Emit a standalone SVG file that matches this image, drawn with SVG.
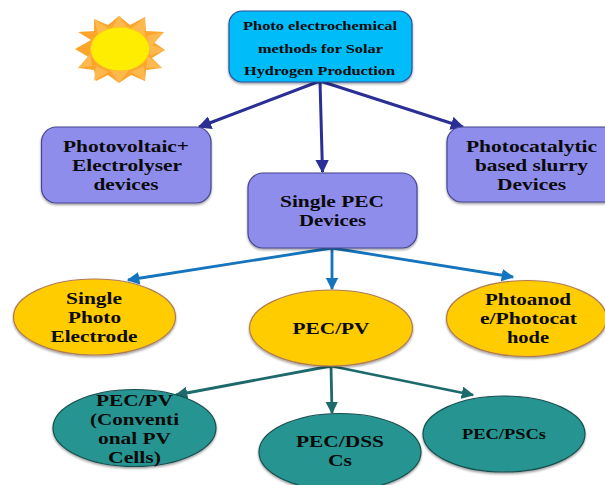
<svg xmlns="http://www.w3.org/2000/svg" width="605" height="485" viewBox="0 0 605 485">
<style>
text{font-family:"Liberation Serif","Times New Roman",serif;font-weight:bold;fill:#0a0a0a;text-anchor:middle}
.t1{font-size:13.500px}.t2{font-size:17.500px}.t3{font-size:15px}
.top{fill:#00bdf9;stroke:#2a4f9e;stroke-width:1.2;filter:url(#sh)}
.box{fill:#8f8dec;stroke:#46468f;stroke-width:1.2;filter:url(#sh)}
.gold{fill:#ffcc05;stroke:#b07c50;stroke-width:1.2;filter:url(#sh)}
.teal{fill:#279490;stroke:#174f50;stroke-width:1.2;filter:url(#sh)}
.c1{stroke:#2b2f95;stroke-width:3;fill:none;marker-end:url(#m1)}
.c2{stroke:#1474bd;stroke-width:2.800;fill:none;marker-end:url(#m2)}
.c3{stroke:#1d6a6c;stroke-width:2.800;fill:none;marker-end:url(#m3)}
</style>
<defs>
<filter id="sh" x="-10%" y="-10%" width="120%" height="125%"><feDropShadow dx="0" dy="1.500" stdDeviation="1.200" flood-color="#000" flood-opacity=".4"/></filter>
<marker id="m1" viewBox="0 0 10 10" refX="9" refY="5" markerWidth="4.500" markerHeight="4.500" orient="auto"><path d="M0 0L10 5L0 10Z" fill="#2b2f95"/></marker>
<marker id="m2" viewBox="0 0 10 10" refX="9" refY="5" markerWidth="4.500" markerHeight="4.500" orient="auto"><path d="M0 0L10 5L0 10Z" fill="#1474bd"/></marker>
<marker id="m3" viewBox="0 0 10 10" refX="9" refY="5" markerWidth="4.500" markerHeight="4.500" orient="auto"><path d="M0 0L10 5L0 10Z" fill="#1d6a6c"/></marker>
</defs>
<rect width="605" height="485" fill="#fff"/>
<g id="sun">
<path d="M75 49L91 40L78 32L94 31L94 19L108 25L119 16L130 25L145 17L146 31L164 32L152 41L165 50L152 58L162 68L146 70L145 81L131 75L119 83L108 75L96 81L94 70L78 68L90 58Z" fill="#fba52c"/>
<path d="M119 16L111 30L129 30ZM94 19L98 34L108 28ZM145 17L132 28L145 36ZM164 32L147 36L150 48ZM165 50L150 44L150 56ZM162 68L148 56L146 68ZM145 81L144 66L131 72ZM119 83L110 70L129 70ZM94 81L108 72L96 66ZM78 68L92 66L90 54Z" fill="#fdb84e"/>
<ellipse cx="120" cy="49" rx="29.500" ry="22" fill="#ffed00" stroke="#fbc02d" stroke-width="1"/>
</g>
<g id="connectors">
<path class="c1" d="M320 81L199 127"/>
<path class="c1" d="M320 81L322.500 172"/>
<path class="c1" d="M320 81L463 127"/>
<path class="c2" d="M332 248L128 280"/>
<path class="c2" d="M332 248L332 289"/>
<path class="c2" d="M332 248L513 277"/>
<path class="c3" d="M331 366L176 395"/>
<path class="c3" d="M331 366L332 413"/>
<path class="c3" d="M331 366L473 395"/>
</g>
<g id="n-root"><rect class="top" x="229" y="11" width="183" height="71" rx="13"/>
<text class="t1" x="320" y="30" textLength="154" lengthAdjust="spacingAndGlyphs">Photo electrochemical</text>
<text class="t1" x="320.500" y="52.500" textLength="125" lengthAdjust="spacingAndGlyphs">methods for Solar</text>
<text class="t1" x="319.500" y="75" textLength="151" lengthAdjust="spacingAndGlyphs">Hydrogen Production</text></g>
<g id="n-pv"><rect class="box" x="41.500" y="127" width="169.500" height="76" rx="15"/>
<text class="t2" x="126" y="152" textLength="126" lengthAdjust="spacingAndGlyphs">Photovoltaic+</text>
<text class="t2" x="127" y="171" textLength="110" lengthAdjust="spacingAndGlyphs">Electrolyser</text>
<text class="t2" x="126" y="190" textLength="65" lengthAdjust="spacingAndGlyphs">devices</text></g>
<g id="n-single"><rect class="box" x="248" y="173" width="169" height="75" rx="15"/>
<text class="t2" x="332" y="207" textLength="104" lengthAdjust="spacingAndGlyphs">Single PEC</text>
<text class="t2" x="332.500" y="226" textLength="67" lengthAdjust="spacingAndGlyphs">Devices</text></g>
<g id="n-cat"><rect class="box" x="447" y="127" width="172" height="75" rx="15"/>
<text class="t2" x="531.500" y="152" textLength="131" lengthAdjust="spacingAndGlyphs">Photocatalytic</text>
<text class="t2" x="531.500" y="171" textLength="113" lengthAdjust="spacingAndGlyphs">based slurry</text>
<text class="t2" x="531.500" y="190" textLength="69" lengthAdjust="spacingAndGlyphs">Devices</text></g>
<g id="n-spe"><ellipse class="gold" cx="94.500" cy="317" rx="81" ry="38"/>
<text class="t2" x="94" y="304" textLength="56" lengthAdjust="spacingAndGlyphs">Single</text>
<text class="t2" x="94.500" y="323" textLength="53" lengthAdjust="spacingAndGlyphs">Photo</text>
<text class="t2" x="94" y="342" textLength="87" lengthAdjust="spacingAndGlyphs">Electrode</text></g>
<g id="n-pecpv"><ellipse class="gold" cx="331" cy="328" rx="81.500" ry="38"/>
<text class="t2" x="331" y="334" textLength="77" lengthAdjust="spacingAndGlyphs">PEC/PV</text></g>
<g id="n-phto"><ellipse class="gold" cx="526.500" cy="318.500" rx="80" ry="38"/>
<text class="t2" x="528" y="305" textLength="86" lengthAdjust="spacingAndGlyphs">Phtoanod</text>
<text class="t2" x="528.500" y="324" textLength="97" lengthAdjust="spacingAndGlyphs">e/Photocat</text>
<text class="t2" x="528" y="343" textLength="42" lengthAdjust="spacingAndGlyphs">hode</text></g>
<g id="n-conv"><ellipse class="teal" cx="134.500" cy="428" rx="81.500" ry="38.500"/>
<text class="t2" x="134.500" y="406" textLength="77" lengthAdjust="spacingAndGlyphs">PEC/PV</text>
<text class="t2" x="134.500" y="425" textLength="89" lengthAdjust="spacingAndGlyphs">(Conventi</text>
<text class="t2" x="134.500" y="444" textLength="73" lengthAdjust="spacingAndGlyphs">onal PV</text>
<text class="t2" x="134.500" y="463" textLength="53" lengthAdjust="spacingAndGlyphs">Cells)</text></g>
<g id="n-dss"><ellipse class="teal" cx="340" cy="452" rx="81" ry="38.500"/>
<text class="t2" x="340" y="447" textLength="88" lengthAdjust="spacingAndGlyphs">PEC/DSS</text>
<text class="t2" x="340" y="466" textLength="24" lengthAdjust="spacingAndGlyphs">Cs</text></g>
<g id="n-psc"><ellipse class="teal" cx="504" cy="434" rx="81" ry="38"/>
<text class="t3" x="504" y="439" textLength="84" lengthAdjust="spacingAndGlyphs">PEC/PSCs</text></g>
</svg>
